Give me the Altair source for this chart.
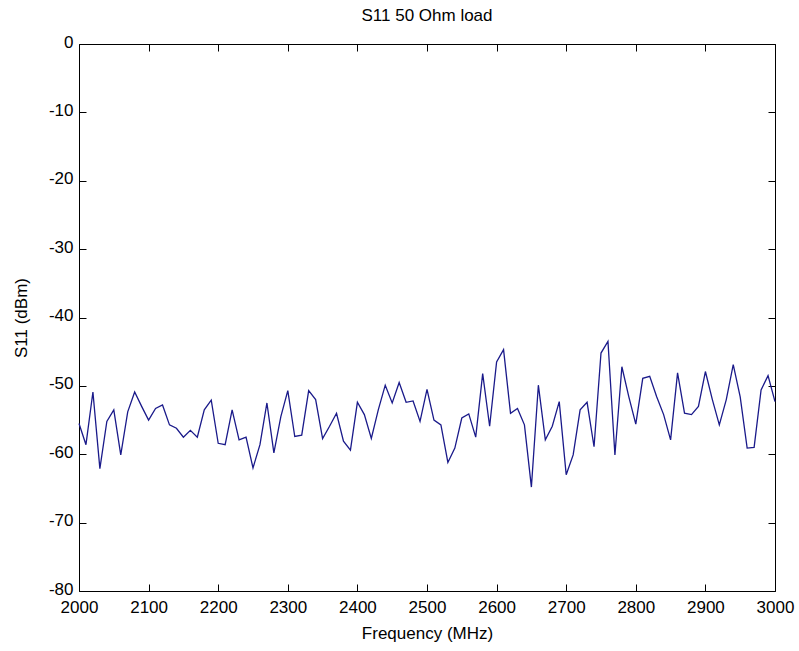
import altair as alt
import pandas as pd

freq_mhz = list(range(2000, 3001, 10))
s11_dbm = [
    -55.5, -58.6, -50.9, -62.1, -55.2, -53.5, -60.1, -53.8, -50.9, -53.0,
    -55.0, -53.3, -52.8, -55.7, -56.2, -57.5, -56.5, -57.5, -53.5, -52.1,
    -58.4, -58.6, -53.5, -57.9, -57.5, -62.0, -58.6, -52.5, -59.8, -54.5,
    -50.7, -57.4, -57.2, -50.7, -52.0, -57.7, -55.9, -54.0, -58.1, -59.4,
    -52.4, -54.2, -57.7, -53.5, -49.9, -52.5, -49.5, -52.4, -52.2, -55.2,
    -50.5, -55.0, -55.7, -61.2, -59.1, -54.7, -54.1, -57.5, -48.2, -55.9,
    -46.5, -44.7, -54.0, -53.3, -55.7, -64.8, -49.9, -57.9, -55.9, -52.3,
    -63.0, -60.1, -53.5, -52.4, -58.9, -45.2, -43.5, -60.1, -47.2, -51.6,
    -55.6, -48.9, -48.6, -51.6, -54.2, -57.9, -48.1, -54.0, -54.2, -53.0,
    -47.9, -52.0, -55.7, -52.0, -46.9, -51.6, -59.1, -59.0, -50.6, -48.5,
    -52.3,
]
x_ticks = [2000, 2100, 2200, 2300, 2400, 2500, 2600, 2700, 2800, 2900, 3000]
y_ticks = [0, -10, -20, -30, -40, -50, -60, -70, -80]

df = pd.DataFrame({"freq": freq_mhz, "s11": s11_dbm})

FONT = "Liberation Sans"
FS = 17
TICK = 7

x_scale = alt.Scale(domain=[2000, 3000], nice=False, zero=False)
y_scale = alt.Scale(domain=[-80, 0], nice=False, zero=False)

common_axis = dict(
    grid=False, domain=False, tickColor="black", tickSize=TICK, tickWidth=1,
    offset=-TICK, labelFont=FONT, labelFontSize=FS, labelColor="black",
    titleFont=FONT, titleFontSize=FS, titleColor="black", titleFontWeight="normal",
)

main = alt.Chart(df).mark_line(color="#1a1a8a", strokeWidth=1.3).encode(
    x=alt.X("freq:Q", scale=x_scale,
            axis=alt.Axis(orient="bottom", values=x_ticks,
                          labelExpr="'' + datum.value",
                          title="Frequency (MHz)", labelPadding=8, titlePadding=10,
                          labelFlush=False, **common_axis)),
    y=alt.Y("s11:Q", scale=y_scale,
            axis=alt.Axis(orient="left", values=y_ticks,
                          labelExpr="'' + datum.value",
                          title="S11 (dBm)", labelPadding=6, titlePadding=18,
                          labelOffset=-2,
                          labelFlush=False, **common_axis)),
)

mirror = alt.Chart(df).mark_line(strokeOpacity=0).encode(
    x=alt.X("freq:Q", scale=x_scale,
            axis=alt.Axis(orient="top", values=x_ticks, labels=False, title=None,
                          **common_axis)),
    y=alt.Y("s11:Q", scale=y_scale,
            axis=alt.Axis(orient="right", values=y_ticks, labels=False, title=None,
                          **common_axis)),
)

chart = alt.layer(main, mirror).resolve_axis(
    x="independent", y="independent"
).properties(
    width=696, height=547,
    title=alt.TitleParams("S11 50 Ohm load", font=FONT, fontSize=FS,
                          fontWeight="normal", color="black", anchor="middle",
                          offset=8),
    autosize=alt.AutoSizeParams(type="none"),
    padding={"left": 79, "top": 44, "right": 24, "bottom": 60},
    background="white",
).configure_view(stroke="black", strokeWidth=1)

chart.save("out.html", embed_options={"renderer": "svg", "actions": False})
